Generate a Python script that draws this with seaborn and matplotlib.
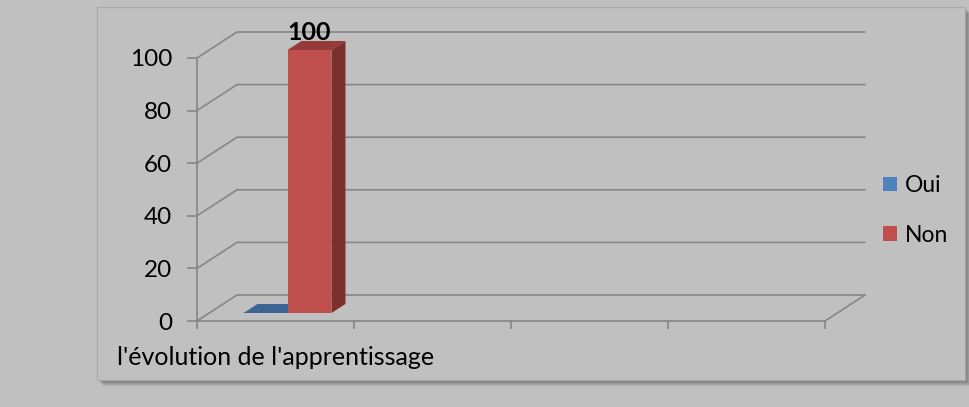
import pandas as pd
import matplotlib
matplotlib.use('Agg')
import matplotlib.pyplot as plt
import seaborn as sns
from matplotlib.patches import Polygon, Rectangle, Patch
from matplotlib.lines import Line2D
from matplotlib.transforms import IdentityTransform, ScaledTranslation

# données
categories = ["l'évolution de l'apprentissage", "cat 2", "cat 3", "cat 4"]
reponses = ['Oui', 'Non']
valeurs_oui = [0]
valeurs_non = [100]
couleurs = ['#4F81BD', '#C0504D']
couleurs_dessus = ['#3C6494', '#943A38']
couleurs_cote = ['#345A87', '#7B302E']
yticks = [0, 20, 40, 60, 80, 100]

df = pd.DataFrame({
    'categorie': [categories[0]] * 2,
    'reponse': reponses,
    'valeur': valeurs_oui + valeurs_non,
})

sns.set_theme(style='white')
plt.rcParams['font.family'] = ['Lato', 'DejaVu Sans']
plt.rcParams['text.color'] = 'black'

W, H = 970, 407
fond = '#C0C0C0'
gris = '#868686'
fig = plt.figure(figsize=(W / 100, H / 100), dpi=100, facecolor=fond)

# zone du graphique avec ombre
for i in range(1, 7):
    fig.add_artist(Rectangle(((97 + i) / W, (27 - i) / H), 868 / W, 373 / H,
                             transform=fig.transFigure, facecolor='black',
                             alpha=0.07, edgecolor='none', zorder=-2))
fig.add_artist(Rectangle((97 / W, 27 / H), 868 / W, 373 / H,
                         transform=fig.transFigure, facecolor=fond,
                         edgecolor='#A8A8A8', lw=0.8, zorder=-1))

ax = fig.add_axes([197 / W, 86 / H, 628 / W, 263 / H])
ax.set_facecolor('none')
ax.set_zorder(2)

sns.barplot(data=df, x='categorie', y='valeur', hue='reponse', order=categories,
            hue_order=reponses, palette=couleurs, width=0.56, saturation=1,
            ax=ax, legend=False, zorder=3)

ax.set_xlim(-0.5, len(categories) - 0.5)
ax.set_ylim(0, 100)

# profondeur 3D (en pixels)
prof = (40, 26)
avant = (12, 8)
ep = (14, 9)

def px(x, y):
    return ax.transData.transform((x, y))

# mur du fond et plancher
xg, xd = -0.5, len(categories) - 0.5
for y in yticks:
    a = px(xg, y)
    b = a + prof
    c = px(xd, y) + prof
    ax.add_line(Line2D([a[0], b[0], c[0]], [a[1], b[1], c[1]], transform=IdentityTransform(),
                       color=gris, lw=1.2, clip_on=False, zorder=1))
a = px(xd, 0)
ax.add_line(Line2D([a[0], a[0] + prof[0]], [a[1], a[1] + prof[1]], transform=IdentityTransform(),
                   color=gris, lw=1.2, clip_on=False, zorder=1))

# barres : face avant décalée + dessus + côté
decal = ScaledTranslation(avant[0] / 100, avant[1] / 100, fig.dpi_scale_trans)
for i, p in enumerate(ax.patches):
    x0, y0 = p.get_x(), p.get_y()
    x1, y1 = x0 + p.get_width(), y0 + p.get_height()
    p.set_transform(ax.transData + decal)
    p.set_edgecolor('none')
    p.set_zorder(3 + 2 * i)
    p.set_clip_on(False)
    tl = px(x0, y1) + avant
    tr = px(x1, y1) + avant
    br = px(x1, y0) + avant
    dessus = [tl, tr, tr + ep, tl + ep]
    cote = [br, tr, tr + ep, br + ep]
    ax.add_patch(Polygon(cote, closed=True, transform=IdentityTransform(),
                         facecolor=couleurs_cote[i], edgecolor='none', clip_on=False, zorder=3 + 2 * i))
    ax.add_patch(Polygon(dessus, closed=True, transform=IdentityTransform(),
                         facecolor=couleurs_dessus[i], edgecolor='none', clip_on=False, zorder=3 + 2 * i))

# étiquette de valeur
p_non = ax.patches[1]
ax.annotate(f"{p_non.get_height():.0f}", xy=(p_non.get_x() + p_non.get_width() / 2, p_non.get_height()),
            xytext=(avant[0], 26), textcoords='offset pixels', ha='center', va='center',
            fontsize=18, fontweight='bold', color='black', annotation_clip=False, zorder=10)

# axes
for s in ['top', 'right']:
    ax.spines[s].set_visible(False)
for s in ['left', 'bottom']:
    ax.spines[s].set_color(gris)
    ax.spines[s].set_linewidth(1.2)
ax.set_yticks(yticks)
ax.tick_params(axis='y', left=True, length=7, width=1.2, color=gris, pad=11,
               labelsize=17.5, labelcolor='black')
ax.set_xticks([-0.5, 0.5, 1.5, 2.5, 3.5])
ax.set_xticklabels([''] * 5)
ax.tick_params(axis='x', which='major', bottom=True, length=6, width=1.2, color=gris)
ax.set_xticks([0], minor=True)
ax.set_xticklabels([categories[0]], minor=True)
ax.tick_params(axis='x', which='minor', bottom=True, length=0, pad=18,
               labelsize=18, labelcolor='black')
ax.set_xlabel('')
ax.set_ylabel('')

handles = [Patch(facecolor=c, edgecolor='none') for c in couleurs]
leg = fig.legend(handles, reponses, loc='upper left', bbox_to_anchor=(883 / W, (H - 175) / H),
                 frameon=False, fontsize=16.5, handlelength=0.62, handleheight=0.62,
                 handletextpad=0.35, labelspacing=1.25, borderpad=0, borderaxespad=0,
                 labelcolor='black')
leg.set_zorder(5)

fig.savefig('out.png', dpi=100, facecolor=fond)
